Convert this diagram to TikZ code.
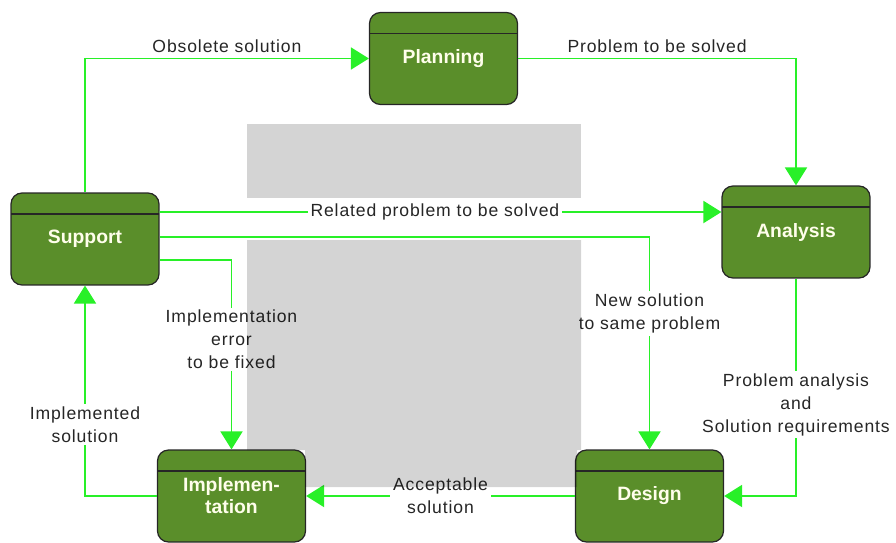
\documentclass[tikz,border=0pt]{standalone}
\usepackage{fontspec}
\setmainfont{Liberation Sans}
\newfontfamily\lblfont[LetterSpace=5]{Liberation Sans}
\usetikzlibrary{arrows.meta}
\definecolor{boxgreen}{RGB}{90,142,42}
\definecolor{flowgreen}{RGB}{40,240,40}

\begin{document}
\begin{tikzpicture}[x=0.02cm, y=-0.02cm]
		\tikzset{
			stage/.style={draw=black!85, line width=0.7pt, fill=boxgreen, rounded corners=0.22cm,
				minimum width=2.96cm, minimum height=1.84cm, align=center, inner sep=1pt,
				text=white!92!yellow, font=\bfseries\fontsize{11}{12.5}\selectfont,
				path picture={\draw[black!85, line width=0.7pt]
					([yshift=-0.42cm]path picture bounding box.north west) --
					([yshift=-0.42cm]path picture bounding box.north east);}},
			flow/.style={draw=flowgreen, line width=1.1pt, -{Triangle[length=0.36cm, width=0.44cm]}},
			lbl/.style={font=\lblfont\fontsize{10}{13}\selectfont, align=center, fill=white,
				inner sep=1.5pt, text=black!85},
			shade box/.style={fill=black, opacity=0.17}
		}
		\useasboundingbox (0,0) rectangle (896,542);

		\node[stage] (planning) at (443.5, 58.5) {Planning};
		\node[stage] (support) at (85, 239) {Support};
		\node[stage] (analysis) at (796, 232) {Analysis};
		\node[stage] (impl) at (231.5, 496) {Implemen-\\tation};
		\node[stage] (design) at (649.5, 496) {Design};

		\draw [flow] (support.north) |- node[lbl, pos=0.75, above=1pt] {Obsolete solution} (planning.west);
		\draw [flow] (planning.east) -| node[lbl, pos=0.25, above=1pt] {Problem to be solved} (analysis.north);
		\draw [flow] ([yshift=0.54cm]support.east) -- node[lbl, pos=0.49] {Related problem to be solved} ([yshift=0.4cm]analysis.west);
		\draw [flow] ([yshift=0.04cm]support.east) -| node[lbl, pos=0.68] {New solution\\to same problem} (design.north);
		\draw [flow] ([yshift=-0.42cm]support.east) -| node[lbl, pos=0.71] {Implementation\\error\\to be fixed} (impl.north);
		\draw [flow] (analysis.south) |- node[lbl, pos=0.29] {Problem analysis\\and\\Solution requirements} (design.east);
		\draw [flow] (design.west) -- node[lbl] {Acceptable\\solution} (impl.east);
		\draw [flow] (impl.west) -| node[lbl, pos=0.67] {Implemented\\solution} (support.south);

		% grey mark behind the chart
		\fill[shade box] (247,124) rectangle (581,198);
		\fill[shade box] (247,240) -- (581,240) -- (581,450) -- (577,450) -- (577,487)
			-- (305,487) -- (305,450) -- (247,450) -- cycle;
	\end{tikzpicture}
\end{document}
